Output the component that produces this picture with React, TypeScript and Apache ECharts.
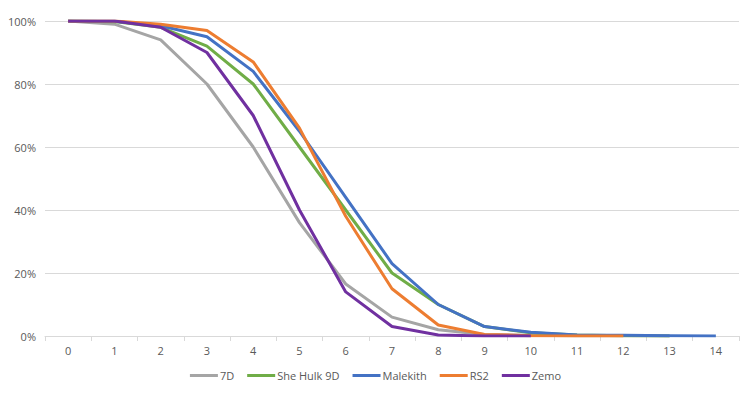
import React, { useEffect, useRef } from "react";
import * as echarts from "echarts";

const categories = ["0","1","2","3","4","5","6","7","8","9","10","11","12","13","14"];
const seriesNames = ["7D", "She Hulk 9D", "Malekith", "RS2", "Zemo"];
const d7D = [1, 0.99, 0.94, 0.8, 0.6, 0.36, 0.165, 0.06, 0.02, 0.005, 0.002, 0.001, 0.0005, 0.0002];
const dSheHulk = [1, 0.998, 0.98, 0.92, 0.8, 0.6, 0.4, 0.2, 0.1, 0.03, 0.01, 0.003, 0.001, 0.0003];
const dMalekith = [1, 0.999, 0.985, 0.95, 0.84, 0.65, 0.44, 0.23, 0.1, 0.03, 0.012, 0.003, 0.002, 0.001, 0];
const dRS2 = [1, 1, 0.99, 0.97, 0.87, 0.66, 0.38, 0.15, 0.035, 0.005, 0.001, 0, 0];
const dZemo = [1, 1, 0.98, 0.9, 0.7, 0.4, 0.14, 0.03, 0.003, 0, 0];
const colors = ["#A5A5A5", "#70AD47", "#4472C4", "#ED7D31", "#7030A0"];

export default function App() {
  const ref = useRef<HTMLDivElement>(null);
  useEffect(() => {
    const chart = echarts.init(ref.current!, undefined, { renderer: "svg" });
    const datas = [d7D, dSheHulk, dMalekith, dRS2, dZemo];
    chart.setOption({
      animation: false,
      color: colors,
      grid: { left: 45, right: 12, top: 21, bottom: 59 },
      legend: {
        bottom: 9,
        left: "center",
        icon: "rect",
        itemWidth: 28,
        itemHeight: 3,
        itemGap: 13,
        textStyle: { color: "#595959", fontSize: 11, fontFamily: "Open Sans", padding: [0, 0, 0, -3] },
        data: seriesNames,
      },
      xAxis: {
        type: "category",
        data: categories,
        boundaryGap: true,
        axisLine: { lineStyle: { color: "#d9d9d9" } },
        axisTick: { show: true, alignWithLabel: false, length: 5, lineStyle: { color: "#d9d9d9" } },
        axisLabel: { color: "#595959", fontSize: 11, fontFamily: "Open Sans", margin: 9 },
      },
      yAxis: {
        type: "value",
        min: 0,
        max: 1,
        interval: 0.2,
        axisLine: { show: false },
        axisTick: { show: false },
        splitLine: { lineStyle: { color: "#d9d9d9" } },
        axisLabel: {
          color: "#595959",
          fontSize: 11,
          fontFamily: "Open Sans",
          margin: 9,
          formatter: (v: number) => Math.round(v * 100) + "%",
        },
      },
      series: seriesNames.map((n, i) => ({
        name: n,
        type: "line",
        data: datas[i],
        showSymbol: false,
        symbol: "none",
        lineStyle: { width: 3, color: colors[i] },
        itemStyle: { color: colors[i] },
      })),
    });
    return () => chart.dispose();
  }, []);
  return <div ref={ref} style={{ width: 751, height: 395, position: "absolute", left: 0, top: 0 }} />;
}
